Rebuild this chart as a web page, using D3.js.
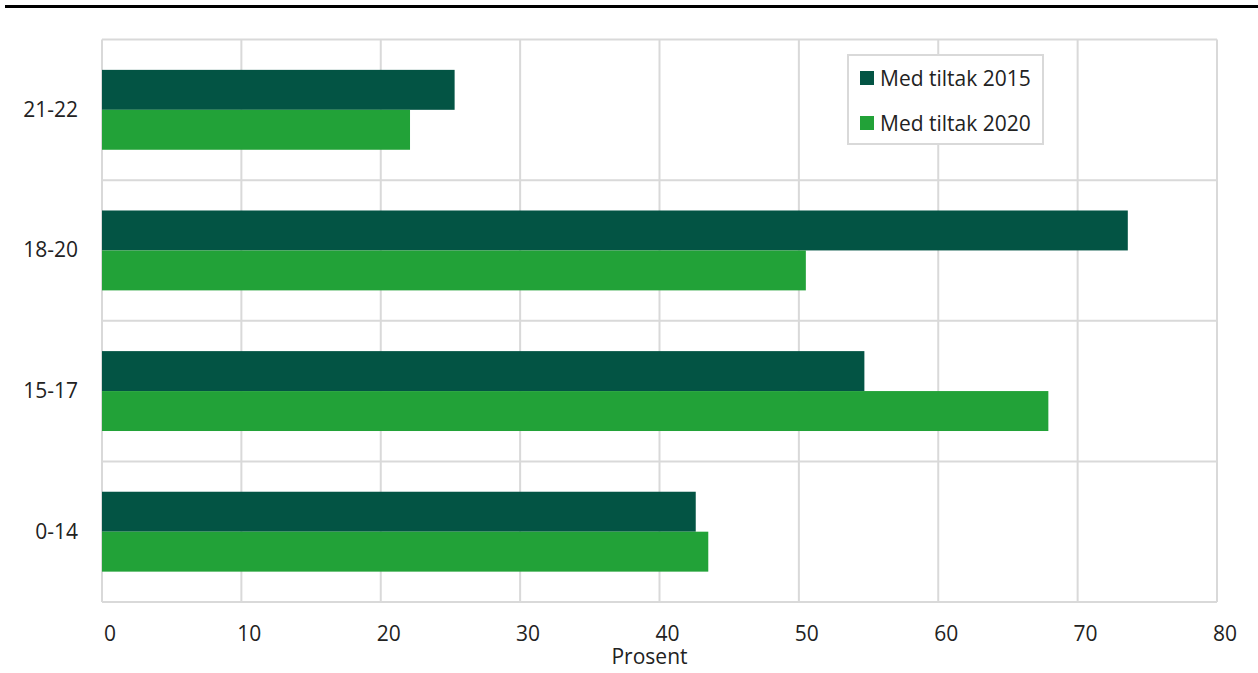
<!DOCTYPE html>
<html>
<head>
<meta charset="utf-8">
<script src="https://cdn.jsdelivr.net/npm/d3@7/dist/d3.min.js"></script>
<style>
  html, body { margin: 0; padding: 0; background: #fff; }
  svg { display: block; font-family: "Open Sans", "Noto Sans", sans-serif; }
</style>
</head>
<body>
<svg id="chart" width="1258" height="673"></svg>
<script>
const categories = ["21-22", "18-20", "15-17", "0-14"];
const seriesNames = ["Med tiltak 2015", "Med tiltak 2020"];
const values2015 = [25.3, 73.6, 54.7, 42.6];
const values2020 = [22.1, 50.5, 67.9, 43.5];
const xTicks = [0, 10, 20, 30, 40, 50, 60, 70, 80];
const colors = ["#035444", "#22a238"];
const xTitle = "Prosent";

const svg = d3.select("#chart");
const W = 1258, H = 673;
const m = { left: 102, right: 41, top: 39.5, bottom: 71 };
const gridColor = "#d9d9d9";
const FS = 21;

// top rule
svg.append("rect").attr("x", 5).attr("y", 5).attr("width", W - 5).attr("height", 3).attr("fill", "#000");

const x = d3.scaleLinear().domain([0, 80]).range([m.left, W - m.right]);
const y = d3.scaleBand().domain(categories).range([m.top, H - m.bottom]).paddingInner(0).paddingOuter(0);
const inner = d3.scaleBand().domain(seriesNames).range([0, y.bandwidth()]).paddingOuter(0.76).paddingInner(0);

// grid vertical
svg.append("g").selectAll("line").data(xTicks).join("line")
  .attr("x1", d => x(d)).attr("x2", d => x(d))
  .attr("y1", m.top).attr("y2", H - m.bottom)
  .attr("stroke", gridColor).attr("stroke-width", 2);
// grid horizontal (band boundaries)
const bounds = categories.map(c => y(c)).concat([y(categories[categories.length - 1]) + y.bandwidth()]);
svg.append("g").selectAll("line").data(bounds).join("line")
  .attr("x1", m.left).attr("x2", W - m.right)
  .attr("y1", d => d).attr("y2", d => d)
  .attr("stroke", gridColor).attr("stroke-width", 2);

// bars
const data = categories.map((c, i) => ({ cat: c, vals: [values2015[i], values2020[i]] }));
const groups = svg.append("g").selectAll("g").data(data).join("g")
  .attr("transform", d => `translate(0,${y(d.cat)})`);
groups.selectAll("rect").data(d => d.vals.map((v, j) => ({ v, s: seriesNames[j], j }))).join("rect")
  .attr("x", x(0))
  .attr("y", d => inner(d.s))
  .attr("width", d => x(d.v) - x(0))
  .attr("height", inner.bandwidth())
  .attr("fill", d => colors[d.j]);

// x tick labels
svg.append("g").selectAll("text").data(xTicks).join("text")
  .attr("x", d => x(d) + 8).attr("y", 641)
  .attr("text-anchor", "middle")
  .attr("font-size", FS).attr("fill", "#222")
  .text(d => d);

// category labels
svg.append("g").selectAll("text").data(categories).join("text")
  .attr("x", 78).attr("y", d => y(d) + y.bandwidth() / 2 + 7)
  .attr("text-anchor", "end")
  .attr("font-size", FS).attr("fill", "#222")
  .text(d => d);

// axis title
svg.append("text").attr("x", 649.5).attr("y", 664).attr("text-anchor", "middle")
  .attr("font-size", FS).attr("fill", "#222").text(xTitle);

// legend
const lg = svg.append("g");
lg.append("rect").attr("x", 848).attr("y", 55).attr("width", 195).attr("height", 89)
  .attr("fill", "#fff").attr("stroke", gridColor).attr("stroke-width", 2);
const rows = lg.selectAll("g").data(seriesNames).join("g")
  .attr("transform", (d, i) => `translate(860,${78 + i * 45})`);
rows.append("rect").attr("x", 0).attr("y", -7).attr("width", 14).attr("height", 14)
  .attr("fill", (d, i) => colors[i]);
rows.append("text").attr("x", 20).attr("y", 7.5).attr("font-size", FS).attr("fill", "#222").text(d => d);
</script>
</body>
</html>
